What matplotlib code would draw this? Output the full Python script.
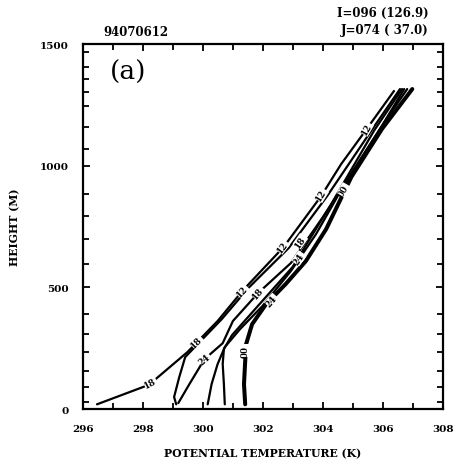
import matplotlib
matplotlib.use("Agg")
import matplotlib.pyplot as plt
from matplotlib.ticker import MultipleLocator, FixedLocator

# ---- data ----
p12_theta = [296.47, 298.20, 299.48, 300.49, 301.34, 302.69, 303.94, 304.61, 305.46, 306.37]
p12_z     = [20, 100, 234, 362, 489, 666, 875, 1007, 1151, 1307]

p18_theta = [299.11, 299.04, 299.21, 299.41, 300.63, 301.51, 302.86, 304.14, 305.63, 306.57]
p18_z     = [20, 50, 131, 214, 370, 497, 662, 875, 1147, 1315]

p24_theta = [299.18, 299.55, 300.05, 300.66, 301.00, 301.84, 302.93, 304.00, 304.95, 305.80, 306.71]
p24_z     = [25, 103, 205, 271, 362, 477, 600, 789, 966, 1130, 1315]

p06_theta = [300.16, 300.29, 300.49, 300.73, 301.24, 301.98, 302.93, 303.77, 304.78, 305.90, 306.81]
p06_z     = [20, 103, 185, 255, 329, 423, 567, 719, 937, 1151, 1315]

p30_theta = [300.73, 300.70, 300.66, 300.70, 300.97, 301.74, 302.99, 304.28, 305.70, 306.64]
p30_z     = [20, 103, 185, 247, 304, 411, 584, 843, 1143, 1315]

p00_theta = [301.41, 301.37, 301.41, 301.44, 301.64, 302.11, 302.76, 303.43, 304.11, 304.95, 305.97, 306.98]
p00_z     = [20, 103, 197, 267, 349, 432, 514, 608, 740, 954, 1151, 1315]

# line labels: (text, theta, z, rotation)
label_text  = ["18", "18", "12", "12", "12", "12", "24", "18", "00", "24", "18", "24", "00"]
label_theta = [298.25, 299.80, 301.30, 302.65, 303.95, 305.45, 300.05, 301.85, 301.41, 302.30, 303.25, 303.20, 304.70]
label_z     = [108, 276, 487, 668, 880, 1152, 207, 478, 240, 445, 690, 620, 900]
label_rot   = [28, 45, 47, 52, 58, 60, 40, 50, 90, 50, 55, 55, 60]

# model level heights used as tick marks on the height axis
level_z = [29, 90, 156, 234, 308, 390, 596, 699, 793, 884, 1069, 1159, 1245, 1303, 1356, 1406, 1467]

fig = plt.figure(figsize=(4.58, 4.64), dpi=100)
ax = fig.add_axes([0.181, 0.116, 0.786, 0.787])

serif = "DejaVu Serif"
lc = "black"
for th, z in [(p12_theta, p12_z), (p18_theta, p18_z), (p24_theta, p24_z),
              (p06_theta, p06_z), (p30_theta, p30_z)]:
    ax.plot(th, z, color=lc, lw=1.6, solid_capstyle="round")
ax.plot(p00_theta, p00_z, color=lc, lw=2.9, solid_capstyle="round")

for t, x, y, r in zip(label_text, label_theta, label_z, label_rot):
    ax.text(x, y, t, rotation=r, ha="center", va="center", fontsize=6.3,
            fontweight="bold", family=serif,
            bbox=dict(boxstyle="square,pad=0.05", fc="white", ec="none"))

ax.set_xlim(296, 308)
ax.set_ylim(0, 1500)
ax.xaxis.set_major_locator(MultipleLocator(2))
ax.xaxis.set_minor_locator(MultipleLocator(1))
ax.yaxis.set_major_locator(FixedLocator([0, 500, 1000, 1500]))
ax.yaxis.set_minor_locator(FixedLocator(level_z))
ax.tick_params(which="both", direction="in", top=True, right=True,
               width=1.3, labelsize=7.5)
ax.tick_params(axis="x", which="major", pad=11)
ax.tick_params(axis="y", which="major", pad=10)
ax.tick_params(which="major", length=5)
ax.tick_params(which="minor", length=4)
for lab in ax.get_xticklabels() + ax.get_yticklabels():
    lab.set_family(serif)
    lab.set_fontweight("bold")
for s in ax.spines.values():
    s.set_linewidth(1.6)

ax.set_xlabel("POTENTIAL TEMPERATURE (K)", family=serif, fontweight="bold",
              fontsize=7.8, labelpad=10)
ax.set_ylabel("HEIGHT (M)", family=serif, fontweight="bold", fontsize=7.8,
              labelpad=14)

ax.text(0.125, 0.926, "(a)", transform=ax.transAxes, ha="center", va="center",
        fontsize=19, family=serif)

fig.text(0.225, 0.931, "94070612", ha="left", va="center", family=serif,
         fontweight="bold", fontsize=8.5)
fig.text(0.935, 0.970, "I=096 (126.9)", ha="right", va="center", family=serif,
         fontweight="bold", fontsize=8.5)
fig.text(0.935, 0.935, "J=074 ( 37.0)", ha="right", va="center", family=serif,
         fontweight="bold", fontsize=8.5)

fig.savefig("out.png", dpi=100)
